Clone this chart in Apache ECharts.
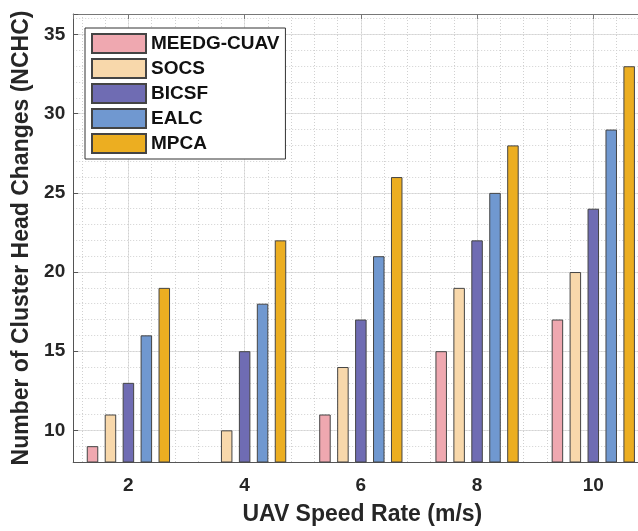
<!DOCTYPE html>
<html>
<head>
<meta charset="utf-8">
<script src="https://cdn.jsdelivr.net/npm/echarts@6/dist/echarts.min.js"></script>
<style>html,body{margin:0;padding:0;background:#fff;}#c{width:638px;height:531px;}</style>
</head>
<body>
<div id="c"></div>
<script>
var speeds = [2, 4, 6, 8, 10];
var seriesNames = ['MEEDG-CUAV', 'SOCS', 'BICSF', 'EALC', 'MPCA'];
var meedg = [9, 8, 11, 15, 17];
var socs  = [11, 10, 14, 19, 20];
var bicsf = [13, 15, 17, 22, 24];
var ealc  = [16, 18, 21, 25, 29];
var mpca  = [19, 22, 26, 28, 33];
var colors = ['#EFA8B0', '#F8D8AB', '#6F6CB3', '#7098D0', '#ECAE21'];
var yTickLabels = [10, 15, 20, 25, 30, 35];

var values = [meedg, socs, bicsf, ealc, mpca];
var FONT = 'Liberation Sans, Arial, sans-serif';

var chart = echarts.init(document.getElementById('c'), null, {renderer: 'canvas'});
var series = seriesNames.map(function (n, i) {
  return {
    name: n, type: 'bar', xAxisIndex: 0, yAxisIndex: 0,
    barWidth: 11.5, barGap: '56%',
    itemStyle: {color: colors[i], borderColor: '#444', borderWidth: 1},
    data: speeds.map(function (s, j) { return [s, values[i][j]]; }),
    z: 3
  };
});

chart.setOption({
  animation: false,
  backgroundColor: '#fff',
  grid: [
    {left: 73.2, width: 578.2, top: 14, bottom: 69, containLabel: false, outerBoundsMode: 'none'},
    {left: 81.8, width: 558, top: 14, bottom: 69, containLabel: false, outerBoundsMode: 'none'}
  ],
  legend: {
    data: seriesNames, orient: 'vertical', left: 85, top: 28,
    padding: [5, 6, 5, 6], itemGap: 4, itemWidth: 54, itemHeight: 19,
    icon: 'rect', backgroundColor: '#fff', borderColor: '#333', borderWidth: 1,
    textStyle: {fontFamily: FONT, fontWeight: 'bold', fontSize: 19, color: '#111', lineHeight: 19},
    z: 10
  },
  xAxis: [
    {
      type: 'value', gridIndex: 0, position: 'bottom', min: 1.05, max: 11, splitNumber: 5,
      name: 'UAV Speed Rate (m/s)', nameLocation: 'middle', nameGap: 41,
      nameTextStyle: {fontFamily: FONT, fontWeight: 'bold', fontSize: 23, color: '#262626'},
      axisLine: {lineStyle: {color: '#555', width: 1}},
      axisTick: {inside: true, length: 5, lineStyle: {color: '#555'}},
      axisLabel: {
        margin: 14, fontFamily: FONT, fontWeight: 'bold', fontSize: 19, color: '#262626',
        formatter: function (v) { return speeds.indexOf(Math.round(v * 1000) / 1000) >= 0 ? String(Math.round(v)) : ''; }
      },
      splitLine: {show: true, lineStyle: {color: '#e2e2e2', width: 1}}
    },
    {
      type: 'value', gridIndex: 0, position: 'top', min: 1.05, max: 11, splitNumber: 5,
      axisLine: {show: true, lineStyle: {color: '#777', width: 1}},
      axisTick: {show: true, inside: true, length: 5, lineStyle: {color: '#777'}},
      axisLabel: {show: false}, splitLine: {show: false}
    },
    {
      type: 'value', gridIndex: 1, min: 1.2, max: 10.8, interval: 0.4,
      axisLine: {show: false}, axisTick: {show: false}, axisLabel: {show: false},
      splitLine: {show: true, lineStyle: {color: '#d0d0d0', width: 1, type: [1, 2]}}
    }
  ],
  yAxis: [
    {
      type: 'value', gridIndex: 0, min: 8, max: 36.3, splitNumber: 6,
      name: 'Number of Cluster Head Changes (NCHC)', nameLocation: 'middle', nameGap: 37,
      nameTextStyle: {fontFamily: FONT, fontWeight: 'bold', fontSize: 23, color: '#262626'},
      axisLine: {show: true, lineStyle: {color: '#555', width: 1}},
      axisTick: {show: true, inside: true, length: 5, lineStyle: {color: '#555'}},
      axisLabel: {
        margin: 8, fontFamily: FONT, fontWeight: 'bold', fontSize: 19, color: '#262626',
        formatter: function (v) { var r = Math.round(v * 1000) / 1000; return yTickLabels.indexOf(r) >= 0 ? String(r) : ''; }
      },
      splitLine: {show: true, lineStyle: {color: '#e2e2e2', width: 1}}
    },
    {
      type: 'value', gridIndex: 0, min: 8, max: 36.3, interval: 1,
      axisLine: {show: false}, axisTick: {show: false}, axisLabel: {show: false},
      splitLine: {show: true, lineStyle: {color: '#d0d0d0', width: 1, type: [1, 2]}}
    },
    {
      type: 'value', gridIndex: 1, min: 8, max: 36.3,
      axisLine: {show: false}, axisTick: {show: false}, axisLabel: {show: false},
      splitLine: {show: false}
    }
  ],
  series: series
});
</script>
</body>
</html>
